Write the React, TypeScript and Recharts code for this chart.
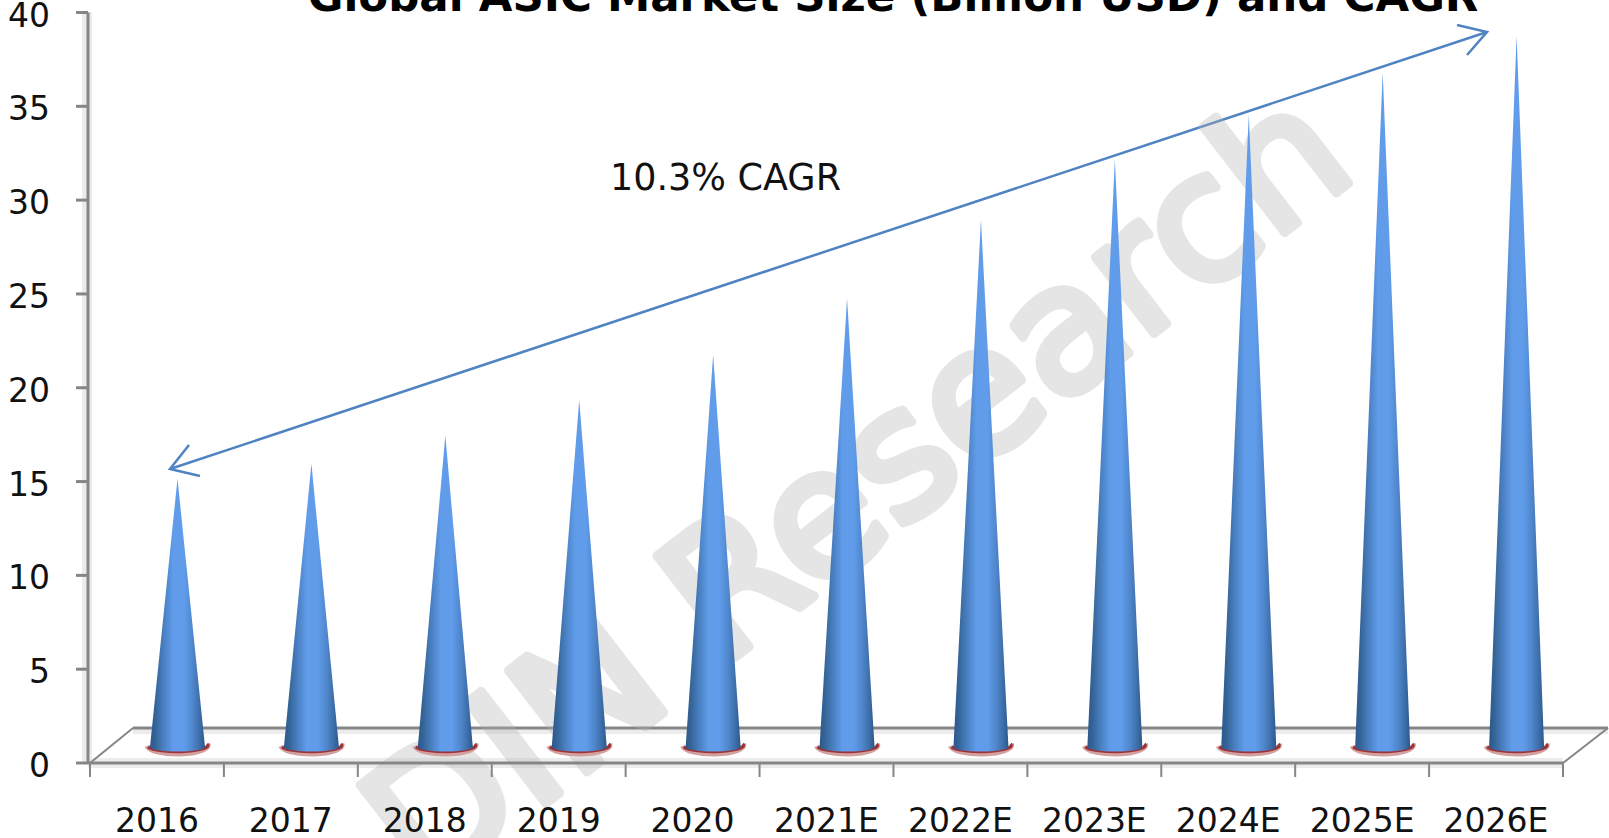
import React from 'react';
import { BarChart, Bar, XAxis, YAxis } from 'recharts';

const YEARS = ['2016', '2017', '2018', '2019', '2020', '2021E', '2022E', '2023E', '2024E', '2025E', '2026E'];
const MARKET_SIZE = [14.3, 15.1, 16.6, 18.5, 20.9, 23.9, 28.1, 31.3, 33.7, 35.95, 37.9];
const Y_TICKS = [0, 5, 10, 15, 20, 25, 30, 35, 40];

const chartData = YEARS.map((year, i) => ({ year, value: MARKET_SIZE[i] }));

const WIDTH = 1609;
const HEIGHT = 838;
const AXIS = '#868686';
const HALO = '#ececec';
const TICK_FONT = '"DejaVu Sans", sans-serif';
// the cones stand on the floor, behind the front edge of the axis
const DEPTH_X = 21;
const DEPTH_Y = 16;
const BAND = (1563 - 90) / YEARS.length;

const Cone = (props: any) => {
  const { x, y, width, height } = props;
  const cx = x + width / 2 + DEPTH_X;
  const baseY = y + height - DEPTH_Y;
  const tipY = y - DEPTH_Y;
  const r = width / 2;
  return (
    <g>
      {/* red rim shows only under the front of the base */}
      <path
        d={`M${cx - r - 3},${baseY - 1} A${r + 3},9 0 0 0 ${cx + r + 3},${baseY - 3}`}
        fill="none"
        stroke="#d3a0a0"
        strokeWidth={5}
      />
      <path
        d={`M${cx - r - 2},${baseY} A${r + 2},6 0 0 0 ${cx + r + 2},${baseY - 3}`}
        fill="none"
        stroke="#9e3236"
        strokeWidth={3}
      />
      <path
        d={`M${cx - r},${baseY} L${cx},${tipY} L${cx + r},${baseY} A${r},4.5 0 0 1 ${cx - r},${baseY} Z`}
        fill="url(#coneFill)"
      />
    </g>
  );
};

const YTick = ({ x, y, payload }: any) => (
  <text x={x} y={y + 14} textAnchor="end" fontFamily={TICK_FONT} fontSize={33} fill="#111">
    {payload.value}
  </text>
);

const XTick = ({ x, payload, index }: any) => (
  <g>
    <line x1={x - BAND / 2} x2={x - BAND / 2} y1={763} y2={777} stroke={AXIS} strokeWidth={2} />
    {index === YEARS.length - 1 && (
      <line x1={x + BAND / 2} x2={x + BAND / 2} y1={763} y2={777} stroke={AXIS} strokeWidth={2} />
    )}
    <text x={x} y={832} textAnchor="middle" fontFamily={TICK_FONT} fontSize={33} fill="#111">
      {payload.value}
    </text>
  </g>
);

export default function App() {
  return (
    <div style={{ position: 'absolute', left: 0, top: 0, width: WIDTH, height: HEIGHT, overflow: 'hidden', background: '#fff' }}>
      <BarChart
        width={WIDTH}
        height={HEIGHT}
        data={chartData}
        margin={{ top: 12.5, right: 46, bottom: 0, left: 0 }}
        barSize={55}
      >
        <defs>
          <linearGradient id="coneFill" x1="0" y1="0" x2="1" y2="0">
            <stop offset="0" stopColor="#2b568c" />
            <stop offset="0.1" stopColor="#356598" />
            <stop offset="0.25" stopColor="#4a80c2" />
            <stop offset="0.42" stopColor="#609cea" />
            <stop offset="0.62" stopColor="#609cea" />
            <stop offset="0.78" stopColor="#4f86cb" />
            <stop offset="0.92" stopColor="#3a6ba5" />
            <stop offset="1" stopColor="#2b568c" />
          </linearGradient>
        </defs>
        {/* floor and wall shading */}
        <g>
          <rect x={82} y={12} width={10} height={752} fill={HALO} />
          <rect x={88} y={758} width={1475} height={10} fill={HALO} />
          <rect x={133} y={729} width={1475} height={5} fill={HALO} />
          <line x1={133} x2={1608} y1={728} y2={728} stroke={AXIS} strokeWidth={3} />
          <line x1={90} y1={763} x2={133} y2={728} stroke={AXIS} strokeWidth={2} />
          <line x1={1563} y1={763} x2={1608} y2={728} stroke={AXIS} strokeWidth={2} />
        </g>
        <XAxis
          dataKey="year"
          height={75}
          padding={{ left: 2, right: 0 }}
          axisLine={{ stroke: AXIS, strokeWidth: 3 }}
          tickLine={false}
          tick={<XTick />}
          interval={0}
        />
        <YAxis
          width={88}
          domain={[0, 40]}
          ticks={Y_TICKS}
          interval={0}
          tickSize={12}
          tickMargin={26}
          axisLine={{ stroke: AXIS, strokeWidth: 3 }}
          tickLine={{ stroke: AXIS, strokeWidth: 3 }}
          tick={<YTick />}
        />
        <Bar dataKey="value" shape={<Cone />} isAnimationActive={false} />
        <g>
          <text x={893} y={11} textAnchor="middle" fontFamily={TICK_FONT} fontWeight="bold" fontSize={43.5} fill="#000">
            Global ASIC Market Size (Billion USD) and CAGR
          </text>
          <text x={610} y={190} fontFamily={TICK_FONT} fontSize={36.5} fill="#111">
            10.3% CAGR
          </text>
          <g fill="none" stroke="#4f83c2" strokeWidth={2.5}>
            <line x1={170} y1={469} x2={1487} y2={32} />
            <polyline points="189,445 170,469 200,476" />
            <polyline points="1457,25 1487,32 1467,55" />
          </g>
          <text
            transform="translate(425 897) rotate(-37.7)"
            fontFamily={TICK_FONT}
            fontSize={176}
            fill="#b4b4b4"
            stroke="#b4b4b4"
            strokeWidth={9}
            strokeLinejoin="round"
            opacity={0.34}
          >
            DIN Research
          </text>
        </g>
      </BarChart>
    </div>
  );
}
